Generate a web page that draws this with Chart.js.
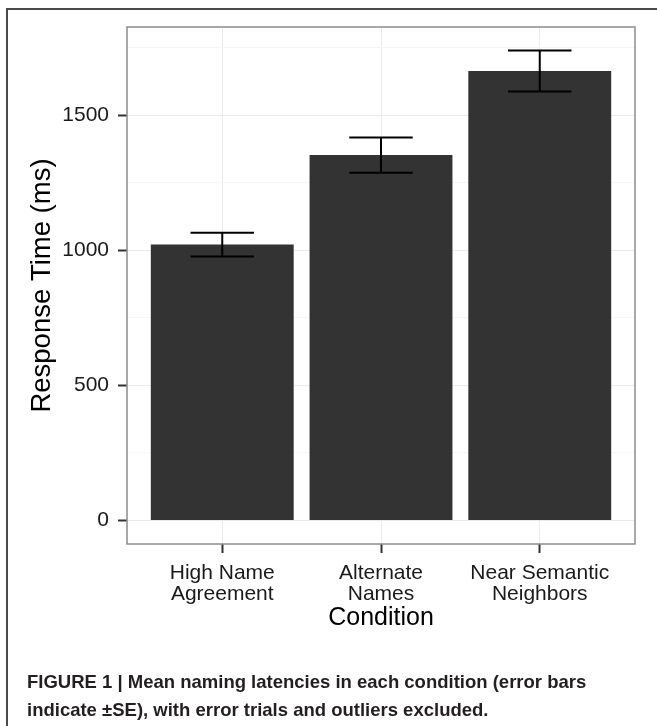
<!DOCTYPE html>
<html lang="en">
<head>
    <meta charset="UTF-8">
    <title>Figure 1 - Mean naming latencies</title>
    <script src="https://cdn.jsdelivr.net/npm/chart.js"></script>
    <style>
        body { margin: 0; background: #fff; width: 657px; height: 726px; overflow: hidden; position: relative; }
        #frame {
            position: absolute; left: 6px; top: 8px; width: 720px; height: 800px;
            border: 2px solid #4a4a4a; box-sizing: border-box;
        }
        #chart { position: absolute; left: 0; top: 0; }
        .caption {
            position: absolute; left: 27px; top: 668px; width: 625px;
            font-family: "Liberation Sans", Arial, sans-serif; font-weight: bold;
            font-size: 18.5px; line-height: 28px; color: #231f20;
        }
    </style>
</head>
<body>
    <div id="frame"></div>
    <canvas id="chart" width="657" height="726"></canvas>
    <div class="caption">FIGURE 1 | Mean naming latencies in each condition (error bars<br>indicate ±SE), with error trials and outliers excluded.</div>

    <script>
        // data
        const conditions = [['High Name', 'Agreement'], ['Alternate', 'Names'], ['Near Semantic', 'Neighbors']];
        const meanRT = [1021, 1352, 1663];
        const seRT = [44, 65, 76];
        const yTicks = [0, 250, 500, 750, 1000, 1250, 1500, 1750];
        const yLabels = ['0', '500', '1000', '1500'];

        const FONT = '"Liberation Sans", Arial, sans-serif';

        // error bars + panel border
        const extras = {
            id: 'extras',
            afterDatasetsDraw(chart) {
                const ctx = chart.ctx;
                const xs = chart.scales.x, ys = chart.scales.y;
                ctx.save();
                ctx.strokeStyle = '#000';
                ctx.lineWidth = 2;
                meanRT.forEach((m, i) => {
                    const x = xs.getPixelForValue(i + 1);
                    const half = xs.getPixelForValue(i + 1 + 0.2) - x;
                    const top = ys.getPixelForValue(m + seRT[i]);
                    const bot = ys.getPixelForValue(m - seRT[i]);
                    ctx.beginPath();
                    ctx.moveTo(x, top); ctx.lineTo(x, bot);
                    ctx.moveTo(x - half, top); ctx.lineTo(x + half, top);
                    ctx.moveTo(x - half, bot); ctx.lineTo(x + half, bot);
                    ctx.stroke();
                });
                const a = chart.chartArea;
                ctx.strokeStyle = '#8c8c8c';
                ctx.lineWidth = 1.5;
                ctx.strokeRect(a.left, a.top, a.right - a.left, a.bottom - a.top);
                ctx.restore();
            }
        };

        new Chart(document.getElementById('chart'), {
            type: 'bar',
            data: {
                datasets: [{
                    data: meanRT.map((v, i) => ({ x: i + 1, y: v })),
                    backgroundColor: '#333333',
                    borderWidth: 0,
                    barPercentage: 0.9,
                    categoryPercentage: 1.0
                }]
            },
            options: {
                responsive: false,
                animation: false,
                events: [],
                layout: { padding: { top: 27, right: 22, left: 0, bottom: 76 } },
                plugins: { legend: { display: false }, tooltip: { enabled: false } },
                scales: {
                    x: {
                        type: 'linear',
                        min: 0.4,
                        max: 3.6,
                        offset: false,
                        afterBuildTicks: s => { s.ticks = conditions.map((c, i) => ({ value: i + 1 })); },
                        afterFit: s => { s.height = 106; },
                        border: { display: false },
                        grid: { offset: false, color: '#ebebeb', lineWidth: 1, tickLength: 9, tickColor: '#333', tickWidth: 2 },
                        ticks: {
                            padding: 10,
                            maxRotation: 0,
                            autoSkip: false,
                            color: '#1a1a1a',
                            font: { family: FONT, size: 21, lineHeight: 1.0 },
                            callback: (v) => conditions[v - 1]
                        },
                        title: {
                            display: true,
                            text: 'Condition',
                            color: '#000',
                            font: { family: FONT, size: 25 },
                            padding: { top: 0, bottom: 17 }
                        }
                    },
                    y: {
                        min: -87,
                        max: 1826,
                        afterBuildTicks: s => { s.ticks = yTicks.map(v => ({ value: v })); },
                        afterFit: s => { s.width = 127; },
                        border: { display: false },
                        grid: {
                            color: c => c.tick && c.tick.value % 500 === 0 ? '#ebebeb' : '#f6f6f6',
                            lineWidth: 1,
                            tickLength: 9,
                            tickWidth: 2,
                            tickColor: c => c.tick && c.tick.value % 500 === 0 ? '#333' : 'rgba(0,0,0,0)'
                        },
                        ticks: {
                            padding: 9,
                            color: '#1a1a1a',
                            font: { family: FONT, size: 21 },
                            callback: v => yLabels.includes(String(v)) ? String(v) : ''
                        },
                        title: {
                            display: true,
                            text: 'Response Time (ms)',
                            color: '#000',
                            font: { family: FONT, size: 27.5 },
                            padding: { top: 26, bottom: 0 }
                        }
                    }
                }
            },
            plugins: [extras]
        });
    </script>
</body>
</html>
